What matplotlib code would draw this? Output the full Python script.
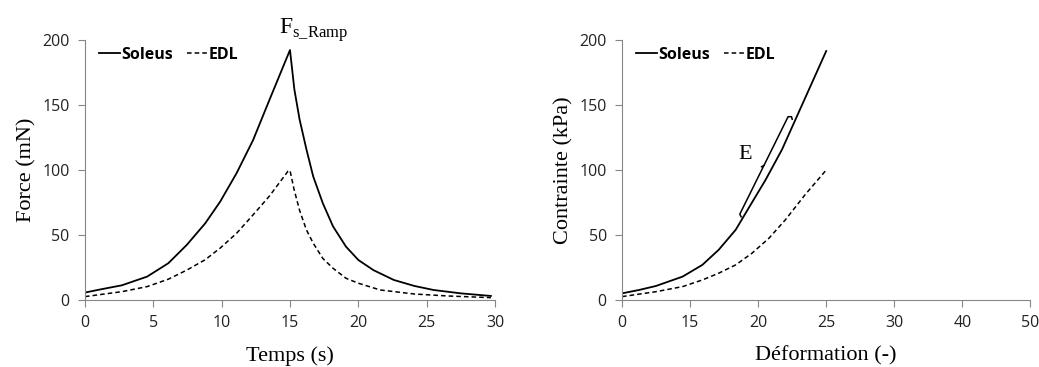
import matplotlib.pyplot as plt
import numpy as np

# ramp test: time (s) vs force (mN)
temps = [0, 1.16, 2.7, 4.55, 6.1, 7.45, 8.8, 9.9, 11.1, 12.3, 13.5, 15,
         15.32, 15.7, 16.2, 16.7, 17.4, 18.15, 19.1, 20, 21.1, 22.6, 24.1, 25.5, 27.5, 29.7]
soleus = [5.7, 8.2, 11.3, 18, 28.3, 42.4, 59, 75.8, 97.7, 123, 154, 192.3,
          162, 139, 116, 95, 74.5, 56.6, 41, 30.8, 23, 15.4, 10.8, 7.7, 5.1, 3.1]
temps_edl = [0, 2.7, 4.55, 6.1, 7.45, 8.8, 9.9, 11.1, 12.3, 13.5, 14.85, 15,
             15.3, 15.7, 16.2, 16.7, 17.4, 18.15, 19.1, 20, 21.6, 24.1, 26.5, 29.7]
edl = [2.6, 6.4, 10.3, 16, 23, 31, 40, 51.4, 65.5, 80, 99, 99.7,
       85, 69, 54, 43.7, 32, 24.4, 16.7, 12.9, 7.7, 4.6, 3.1, 1.8]

# stress-strain: positions on the evenly spaced category axis
deform_labels = ['0', '15', '20', '25', '30', '40', '50']
pos_sol = [0, 0.25, 0.5, 0.89, 1.18, 1.42, 1.67, 1.86, 2.11, 2.35, 2.55, 2.79, 3.0]
contrainte_sol = [5.1, 7.7, 10.8, 18, 27, 38.6, 54, 70.7, 92.5, 115.7, 139, 167, 191.5]
pos_edl = [0, 0.5, 0.89, 1.18, 1.42, 1.67, 1.91, 2.16, 2.4, 2.69, 3.0]
contrainte_edl = [2.6, 6.4, 10.3, 15.4, 20.6, 27, 36, 47.6, 61.7, 81, 100]

grey = '#868686'
serif = 'Liberation Serif'
sans = 'Open Sans'

fig = plt.figure(figsize=(10.39, 3.67), dpi=100)
ax1 = fig.add_axes([0.0818, 0.1826, 0.3946, 0.7084])
ax2 = fig.add_axes([0.5987, 0.1826, 0.3930, 0.7084])


def style(ax):
    for s in ['top', 'right']:
        ax.spines[s].set_visible(False)
    for s in ['left', 'bottom']:
        ax.spines[s].set_color(grey)
    ax.tick_params(colors=grey, labelcolor='#222222', labelsize=11.5, length=5,
                   direction='out', pad=6)
    for lab in ax.get_xticklabels() + ax.get_yticklabels():
        lab.set_fontfamily(sans)
    ax.set_ylim(0, 200)
    ax.set_yticks([0, 50, 100, 150, 200])


ax1.plot(temps, soleus, color='black', lw=1.3, label='Soleus')
ax1.plot(temps_edl, edl, color='black', lw=1.1, ls=(0, (3, 2)), label='EDL')
ax1.set_xlim(0, 30)
ax1.set_xticks([0, 5, 10, 15, 20, 25, 30])
style(ax1)
ax1.set_xlabel('Temps (s)', family=serif, fontsize=16, labelpad=11)
ax1.set_ylabel('Force (mN)', family=serif, fontsize=16, labelpad=4)
ax1.text(16.75, 197, r'F$_\mathregular{s\_Ramp}$', family=serif, fontsize=17,
         ha='center', va='bottom')

ax2.plot(pos_sol, contrainte_sol, color='black', lw=1.3, label='Soleus')
ax2.plot(pos_edl, contrainte_edl, color='black', lw=1.1, ls=(0, (3, 2)), label='EDL')
ax2.set_xlim(0, 6)
ax2.set_xticks(range(len(deform_labels)))
ax2.set_xticklabels(deform_labels)
style(ax2)
ax2.set_xlabel('Déformation (-)', family=serif, fontsize=16, labelpad=11)
ax2.set_ylabel('Contrainte (kPa)', family=serif, fontsize=16, labelpad=4)

# bracket for E
ax2.plot([1.75, 1.73, 2.44, 2.49, 2.5], [64, 66, 141, 141, 139], color='black', lw=1.1)
ax2.plot([2.085, 2.05], [103.5, 102.5], color='black', lw=1.1)
ax2.text(1.81, 112, 'E', family=serif, fontsize=16, ha='center', va='center')

for ax in (ax1, ax2):
    ax.legend(loc='upper left', bbox_to_anchor=(0.0, 1.03), ncol=2, frameon=False,
              handlelength=1.3, handletextpad=0.05, columnspacing=0.9,
              prop={'family': sans, 'weight': 'bold', 'size': 11.5})

plt.savefig('out.png', dpi=100)
